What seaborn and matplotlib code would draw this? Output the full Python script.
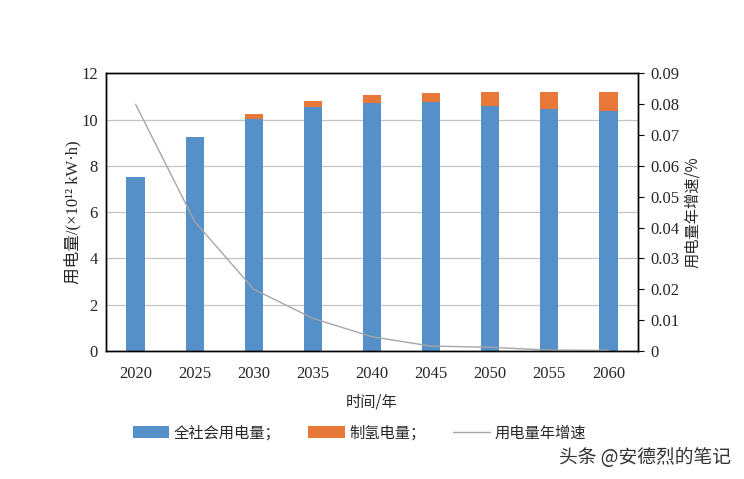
import numpy as np
import pandas as pd
import matplotlib
matplotlib.use("Agg")
import matplotlib.pyplot as plt
import seaborn as sns
from matplotlib.patches import Patch
from matplotlib.lines import Line2D

years = ["2020", "2025", "2030", "2035", "2040", "2045", "2050", "2055", "2060"]
society = [7.52, 9.26, 10.04, 10.56, 10.72, 10.75, 10.59, 10.46, 10.36]
hydrogen = [0.0, 0.0, 0.22, 0.26, 0.35, 0.42, 0.60, 0.73, 0.84]
growth = [0.080, 0.042, 0.020, 0.0106, 0.0046, 0.0016, 0.0012, 0.0003, 0.0002]
left_ticks = [0, 2, 4, 6, 8, 10, 12]
right_ticks = [0, 0.01, 0.02, 0.03, 0.04, 0.05, 0.06, 0.07, 0.08, 0.09]
right_labels = ["0", "0.01", "0.02", "0.03", "0.04", "0.05", "0.06", "0.07", "0.08", "0.09"]

sns.set_theme(style="white")
plt.rcParams["font.family"] = ["Liberation Serif", "Noto Sans CJK SC"]
CJK = ["Noto Sans CJK SC", "DejaVu Sans"]
SER = ["Liberation Serif", "Noto Sans CJK SC"]

BLUE = "#5590C8"
ORANGE = "#E8773A"
GRAY = "#A6A6A6"

df = pd.DataFrame({"year": years, "society": society, "hydrogen": hydrogen,
                   "total": np.array(society) + np.array(hydrogen), "growth": growth})

fig = plt.figure(figsize=(7.44, 4.79), dpi=100)
ax = fig.add_axes([0.1425, 0.2672, 0.715, 0.5795])

sns.barplot(data=df, x="year", y="total", color=ORANGE, width=0.31, ax=ax,
            saturation=1, linewidth=0, order=years)
sns.barplot(data=df, x="year", y="society", color=BLUE, width=0.31, ax=ax,
            saturation=1, linewidth=0, order=years)

ax.set_ylim(0, 12)
ax.set_xlim(-0.5, 8.5)
ax.set_yticks(left_ticks)
ax.set_yticklabels([str(t) for t in left_ticks], fontsize=12, family=SER)
ax.set_xticks(range(len(years)))
ax.set_xticklabels(years, fontsize=12, family=SER)
ax.tick_params(axis="x", length=0, pad=11)
ax.tick_params(axis="y", length=0, pad=6)
ax.yaxis.grid(True, color="#C4C4C4", linewidth=0.9)
ax.set_axisbelow(True)
for s in ax.spines.values():
    s.set_color("black")
    s.set_linewidth(1.0)

ax.set_xlabel("时间/年", family=CJK, fontsize=11, fontweight="medium", labelpad=8)
ax.set_ylabel("用电量/(×10¹² kW·h)", family=SER, fontsize=12, labelpad=0)

ax2 = ax.twinx()
sns.lineplot(x=np.arange(len(years)), y=df["growth"].values, color=GRAY, linewidth=1.0, ax=ax2)
ax2.set_ylim(0, 0.09)
ax2.set_yticks(right_ticks)
ax2.set_yticklabels(right_labels, fontsize=12, family=SER)
ax2.tick_params(axis="y", direction="out", length=4, width=0.8, color="black", pad=5)
ax2.set_ylabel("用电量年增速/%", family=CJK, fontsize=11, fontweight="medium",
               rotation=90, labelpad=3)
ax2.yaxis.set_label_position("right")
for s in ax2.spines.values():
    s.set_color("black")
    s.set_linewidth(1.0)
ax.set_xlim(-0.5, 8.5)

handles = [Patch(facecolor=BLUE, edgecolor="none"),
           Patch(facecolor=ORANGE, edgecolor="none"),
           Line2D([0], [0], color=GRAY, linewidth=1.0)]
labels = ["全社会用电量；", "制氢电量；", "用电量年增速"]
fig.legend(handles, labels, loc="center", bbox_to_anchor=(0.483, 0.096), ncol=3,
           frameon=False, prop={"family": CJK, "size": 11, "weight": "medium"},
           handlelength=2.4, handleheight=0.8, columnspacing=1.8, handletextpad=0.3)

fig.text(0.982, 0.045, "头条 @安德烈的笔记", family=CJK, fontsize=13.5, color="#333333",
         ha="right", va="center")

fig.savefig("out.png", dpi=100, facecolor="white")
